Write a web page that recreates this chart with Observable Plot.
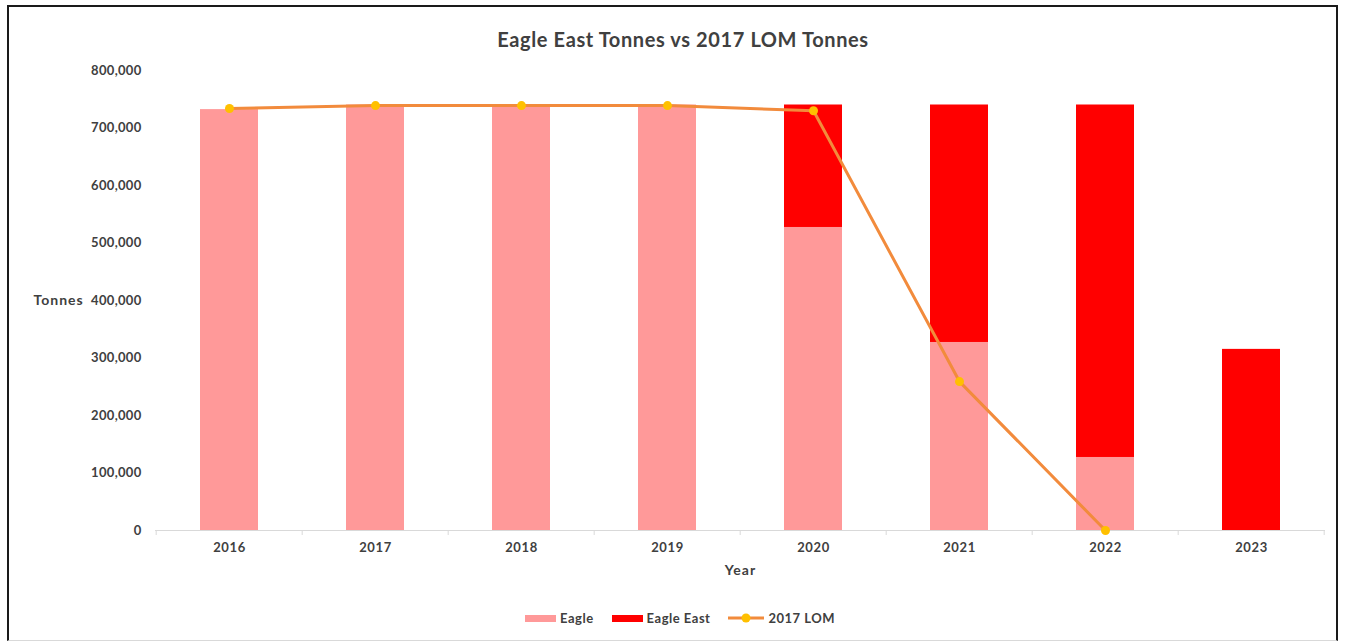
<!DOCTYPE html>
<html>
<head>
<meta charset="utf-8">
<script src="https://cdn.jsdelivr.net/npm/d3@7"></script>
<script src="https://cdn.jsdelivr.net/npm/@observablehq/plot@0.6"></script>
<style>
  html, body { margin: 0; padding: 0; background: #fff; }
  body { width: 1348px; height: 644px; position: relative; overflow: hidden; font-family: Lato, "Open Sans", sans-serif; color: #404040; }
  #frame { position: absolute; left: 7px; top: 5px; width: 1331px; height: 636px; border: 2px solid #1a1a1a; border-bottom: 1px solid #d9d9d9; box-sizing: border-box; }
  #title { position: absolute; top: 27px; left: 0; width: 1366px; text-align: center; font-weight: 700; font-size: 20px; letter-spacing: 0.6px; color: #404040; }
  #chart { position: absolute; top: 60px; left: 0; }
  #chart g[aria-label="y-axis tick label"] text { letter-spacing: 0.3px; }
  #chart g[aria-label="x-axis tick label"] text { letter-spacing: 0.6px; }
  #chart g[aria-label="text"] text { letter-spacing: 1px; }
  #legend { position: absolute; top: 610px; left: 0; width: 1360px; display: flex; justify-content: center; align-items: center; gap: 18px; font-weight: 700; font-size: 13px; letter-spacing: 0.5px; color: #404040; }
  .item { display: flex; align-items: center; gap: 4px; }
  .sw { width: 31px; height: 7px; }
</style>
</head>
<body>
<div id="frame"></div>
<div id="title">Eagle East Tonnes vs 2017 LOM Tonnes</div>
<div id="chart"></div>
<div id="legend"></div>
<script>
const years = ["2016", "2017", "2018", "2019", "2020", "2021", "2022", "2023"];
const eagle = [732000, 740000, 740000, 740000, 527000, 327000, 127000, 0];
const eagleEast = [0, 0, 0, 0, 213000, 413000, 613000, 315000];
const lom2017 = [734000, 739000, 739000, 739000, 730000, 259000, 0, null];
const seriesNames = ["Eagle", "Eagle East", "2017 LOM"];
const seriesColors = ["#ff9999", "#ff0000", "#f28b3c"];
const dotColor = "#ffc000";
const yTicks = [0, 100000, 200000, 300000, 400000, 500000, 600000, 700000, 800000];

const barData = [];
years.forEach((y, i) => {
  barData.push({year: y, series: seriesNames[0], value: eagle[i]});
  barData.push({year: y, series: seriesNames[1], value: eagleEast[i]});
});
const lineData = years.map((y, i) => ({year: y, value: lom2017[i]})).filter(d => d.value != null);

const boundaryTicks = (index, scales, values, dimensions) => {
  const x = scales.x;
  const step = x(years[1]) - x(years[0]);
  const y0 = scales.y(0);
  const g = d3.create("svg:g");
  const xs = years.map(y => x(y) - step * 0.3);
  xs.push(x(years[years.length - 1]) + step * 0.7);
  xs.forEach(px => {
    g.append("line").attr("x1", px).attr("x2", px).attr("y1", y0).attr("y2", y0 + 5)
      .attr("stroke", "#d9d9d9").attr("stroke-width", 1);
  });
  return g.node();
};

const plot = Plot.plot({
  width: 1348,
  height: 535,
  marginTop: 10,
  marginBottom: 65,
  marginLeft: 155,
  marginRight: 23,
  style: {background: "none", fontFamily: "Lato, 'Open Sans', sans-serif", fontSize: "13px", fontWeight: "700", color: "#404040", overflow: "visible"},
  x: {domain: years, paddingInner: 0.6, paddingOuter: 0.3, label: null, tickSize: 0, tickPadding: 12},
  y: {domain: [0, 800000], ticks: yTicks, tickFormat: d3.format(",.0f"), label: null, tickSize: 0, tickPadding: 14},
  color: {domain: seriesNames.slice(0, 2), range: seriesColors.slice(0, 2)},
  marks: [
    Plot.ruleY([0], {stroke: "#d9d9d9", strokeWidth: 1}),
    boundaryTicks,
    Plot.barY(barData, {x: "year", y: "value", fill: "series"}),
    Plot.line(lineData, {x: "year", y: "value", stroke: seriesColors[2], strokeWidth: 3, curve: "linear"}),
    Plot.dot(lineData, {x: "year", y: "value", r: 4.5, fill: dotColor, stroke: "none"}),
    Plot.text(["Tonnes"], {frameAnchor: "left", textAnchor: "start", dx: -122, fontSize: 14, fontWeight: 700, fill: "#404040"}),
    Plot.text(["Year"], {frameAnchor: "bottom", dy: 44, fontSize: 14, fontWeight: 700, fill: "#404040"})
  ]
});
document.getElementById("chart").appendChild(plot);

const legend = d3.select("#legend");
seriesNames.forEach((name, i) => {
  const item = legend.append("div").attr("class", "item");
  if (i < 2) {
    item.append("div").attr("class", "sw").style("background", seriesColors[i]);
  } else {
    const s = item.append("svg").attr("width", 36).attr("height", 10);
    s.append("line").attr("x1", 0).attr("x2", 36).attr("y1", 5).attr("y2", 5).attr("stroke", seriesColors[2]).attr("stroke-width", 3);
    s.append("circle").attr("cx", 18).attr("cy", 5).attr("r", 4.5).attr("fill", dotColor);
  }
  item.append("span").text(name);
});
</script>
</body>
</html>
